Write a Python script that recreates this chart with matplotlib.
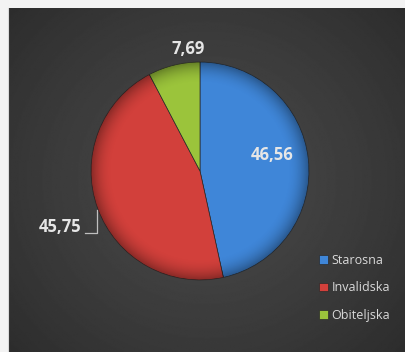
import numpy as np
import matplotlib
matplotlib.use("Agg")
import matplotlib.pyplot as plt
from matplotlib.patches import Circle

# data
categories = ["Starosna", "Invalidska", "Obiteljska"]
values = [46.56, 45.75, 7.69]
value_labels = ["46,56", "45,75", "7,69"]
colors = ["#3f86d8", "#d2403b", "#9bc43b"]

plt.rcParams['font.family'] = ['Open Sans', 'DejaVu Sans']

W, H = 406, 352
fig = plt.figure(figsize=(W / 100, H / 100), dpi=100)
fig.patch.set_facecolor("#f3f3f3")

# dark radial background of the chart area
bg = fig.add_axes([8 / W, 0, (W - 8) / W, (H - 8) / H])
yy, xx = np.mgrid[0:1:300j, 0:1:300j]
r = np.sqrt(((xx - 0.5) * 1.0) ** 2 + ((yy - 0.5) * 0.9) ** 2)
shade = 0.285 - 0.12 * np.clip(r / 0.72, 0, 1) ** 1.3
bg.imshow(shade, cmap="gray", vmin=0, vmax=1, aspect="auto", extent=[0, 1, 0, 1])
bg.axis("off")
fig.add_artist(plt.Line2D([7.5 / W, 7.5 / W], [0, 1 - 8 / H], transform=fig.transFigure,
                          color="#d9d9d9", lw=0.8))

# pie
cx, cy, rad = 200, 171, 109
ax = fig.add_axes([(cx - rad) / W, (H - cy - rad) / H, 2 * rad / W, 2 * rad / H])
wedges, _ = ax.pie(values, colors=colors, startangle=90, counterclock=False, radius=1,
                   wedgeprops=dict(edgecolor="#2a2a2a", linewidth=0.5))
ax.set_xlim(-1, 1)
ax.set_ylim(-1, 1)
ax.set_aspect("equal")
ax.axis("off")

# soft 3d shading over the pie
g = np.linspace(-1, 1, 400)
gx, gy = np.meshgrid(g, g)
gr = np.sqrt(gx ** 2 + gy ** 2)
ov = np.zeros((400, 400, 4))
ov[..., 3] = np.clip((gr - 0.8) / 0.2, 0, 1) ** 2 * 0.35
im = ax.imshow(ov, extent=[-1, 1, -1, 1], origin="lower", zorder=3)
im.set_clip_path(Circle((0, 0), 1, transform=ax.transData))

# labels
lab_kw = dict(color="#e6e6e6", fontsize=12, fontweight="bold", ha="center", va="center")
ax.text(0.66, 0.15, value_labels[0], **lab_kw)
ax.text(-1.284, -0.51, value_labels[1], **lab_kw)
ax.plot([-1.055, -0.945, -0.945], [-0.569, -0.569, -0.358], color="#bfbfbf", lw=0.9,
        clip_on=False)
ax.text(-0.11, 1.115, value_labels[2], **lab_kw)

leg = ax.legend(wedges, categories, loc="upper left", bbox_to_anchor=(319 / W, (H - 254) / H),
                bbox_transform=fig.transFigure, frameon=False, fontsize=9, labelcolor="#d9d9d9",
                handlelength=0.7, handleheight=0.7, handletextpad=0.3, labelspacing=1.15,
                borderpad=0, borderaxespad=0)

fig.savefig("out.png", dpi=100, facecolor=fig.get_facecolor())
